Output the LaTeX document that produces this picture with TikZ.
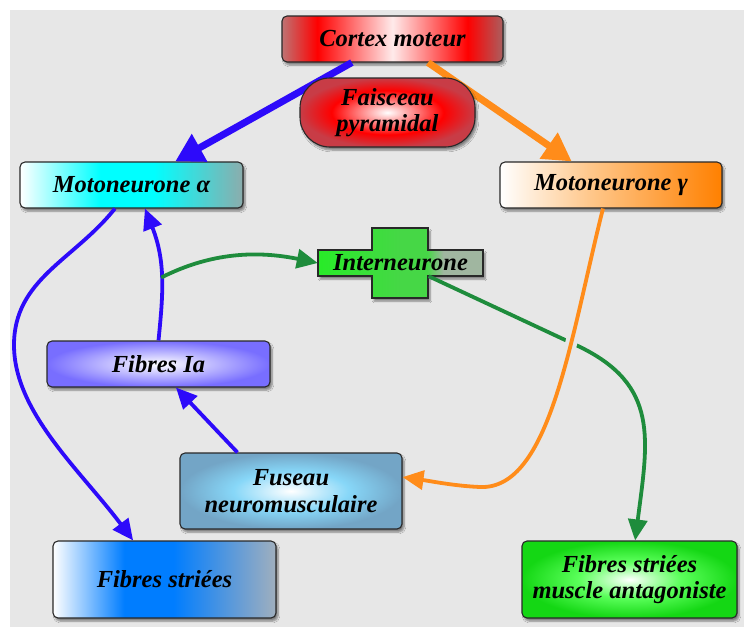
\documentclass[tikz,border=0pt]{standalone}
\usepackage{fontspec}
\setmainfont{Liberation Serif}
\usetikzlibrary{arrows.meta,calc,shadows.blur}

% ---------- colours ----------
\definecolor{paper}{RGB}{231,231,231}
\definecolor{boxline}{RGB}{40,40,40}
\definecolor{linkblue}{RGB}{45,10,250}
\definecolor{linkorange}{RGB}{255,140,26}
\definecolor{linkgreen}{RGB}{30,140,60}

\definecolor{cortexL}{RGB}{190,115,115}
\definecolor{cortexR}{RGB}{170,95,95}
\definecolor{cortexC}{RGB}{255,235,235}
\definecolor{pyrOut}{RGB}{200,60,70}
\definecolor{alphaR}{RGB}{140,172,172}
\definecolor{gammaM}{RGB}{255,200,140}
\definecolor{gammaR}{RGB}{255,128,0}
\definecolor{interL}{RGB}{40,235,40}
\definecolor{interM}{RGB}{70,215,70}
\definecolor{interR}{RGB}{160,182,160}
\definecolor{iaOut}{RGB}{120,110,255}
\definecolor{fusMid}{RGB}{135,215,248}
\definecolor{fusOut}{RGB}{115,165,198}
\definecolor{fsBlue}{RGB}{0,125,255}
\definecolor{fsR}{RGB}{160,175,190}
\definecolor{faMid}{RGB}{90,255,90}
\definecolor{faOut}{RGB}{20,215,20}

% ---------- shadings (inner 25bp..75bp covers the shape) ----------
\pgfdeclarehorizontalshading{cortexshade}{100bp}{color(0bp)=(cortexL); color(25bp)=(cortexL); color(33bp)=(red); color(50bp)=(cortexC); color(67bp)=(red); color(75bp)=(cortexR); color(100bp)=(cortexR)}
\pgfdeclareradialshading{pyrshade}{\pgfpoint{0bp}{0bp}}{color(0bp)=(white); color(9bp)=(red!55!white); color(16bp)=(red); color(25bp)=(pyrOut); color(50bp)=(pyrOut)}
\pgfdeclarehorizontalshading{alphashade}{100bp}{color(0bp)=(white); color(25bp)=(white); color(43bp)=(cyan); color(55bp)=(cyan); color(75bp)=(alphaR); color(100bp)=(alphaR)}
\pgfdeclarehorizontalshading{gammashade}{100bp}{color(0bp)=(white); color(25bp)=(white); color(45bp)=(gammaM); color(75bp)=(gammaR); color(100bp)=(gammaR)}
\pgfdeclarehorizontalshading{intershade}{100bp}{color(0bp)=(interL); color(25bp)=(interL); color(50bp)=(interM); color(58bp)=(interM); color(63bp)=(interR); color(75bp)=(interR); color(100bp)=(interR)}
\pgfdeclareradialshading{iashade}{\pgfpoint{0bp}{0bp}}{color(0bp)=(white); color(25bp)=(iaOut); color(50bp)=(iaOut)}
\pgfdeclareradialshading{fusshade}{\pgfpoint{0bp}{0bp}}{color(0bp)=(white); color(13bp)=(fusMid); color(25bp)=(fusOut); color(50bp)=(fusOut)}
\pgfdeclarehorizontalshading{fsshade}{100bp}{color(0bp)=(white); color(25bp)=(white); color(41bp)=(fsBlue); color(52bp)=(fsBlue); color(75bp)=(fsR); color(100bp)=(fsR)}
\pgfdeclareradialshading{fashade}{\pgfpoint{0bp}{0bp}}{color(0bp)=(white); color(12bp)=(faMid); color(25bp)=(faOut); color(50bp)=(faOut)}

\tikzset{
  softshadow/.style={blur shadow={shadow xshift=2pt, shadow yshift=-3pt,
      shadow blur steps=6, shadow opacity=45}},
  label font/.style={font=\fontsize{24.5}{26.5}\selectfont\bfseries\itshape, text=black},
  box/.style={draw=boxline, line width=1.1pt, rounded corners=5pt, inner sep=0pt,
      align=center, label font, softshadow},
  thinlink/.style={line width=3.8pt, -{Triangle[length=21pt,width=19pt]}},
  thicklink/.style={line width=7pt, -{Triangle[length=28pt,width=30pt]}},
}

\begin{document}
\begin{tikzpicture}[x=1pt,y=-1pt]
\useasboundingbox (0,0) rectangle (744,627);
\fill[white] (0,0) rectangle (744,627);
\fill[paper] (10,10) rectangle (744,627);

% ---------- nodes ----------
\node[box, shading=cortexshade, minimum width=221pt, minimum height=46pt] (cortex) at (392.5,39) {Cortex moteur};
\node[box, shading=alphashade, minimum width=223pt, minimum height=46pt] (ma) at (131.5,185) {Motoneurone α};
\node[box, shading=gammashade, minimum width=222pt, minimum height=46pt] (mg) at (611,185) {Motoneurone γ};

% cross-shaped interneurone body
\path[draw=boxline, line width=1.1pt, shading=intershade, softshadow]
  (318,250) -- (372,250) -- (372,228) -- (428,228) -- (428,250) -- (483,250)
  -- (483,276) -- (428,276) -- (428,298) -- (372,298) -- (372,276) -- (318,276) -- cycle;
\node[label font, inner sep=0pt, minimum width=165pt, minimum height=26pt] (inter) at (400.5,263) {Interneurone};

\node[box, shading=iashade, minimum width=223pt, minimum height=46pt] (fia) at (158.5,364) {Fibres Ia};
\node[box, shading=fusshade, minimum width=222pt, minimum height=76pt] (fus) at (291,491) {Fuseau\\neuromusculaire};
\node[box, shading=fsshade, minimum width=223pt, minimum height=77pt] (fs) at (164.5,579.5) {Fibres striées};
\node[box, shading=fashade, minimum width=215pt, minimum height=77pt] (fa) at (629.5,579.5) {Fibres striées\\muscle antagoniste};

% ---------- connectors ----------
% descending pathways from the motor cortex
\draw[thicklink, linkblue] ($(cortex.south west)!0.317!(cortex.south east)$) -- ($(ma.north west)!0.695!(ma.north east)$);
\draw[thicklink, linkorange] ($(cortex.south west)!0.66!(cortex.south east)$) -- ($(mg.north west)!0.324!(mg.north east)$);

% alpha motoneuron to striated fibres
\draw[thinlink, linkblue] ($(ma.south west)!0.426!(ma.south east)$)
   .. controls (74,260) and (14,279) .. (14,345)
   .. controls (14,412) and (80,470) .. ($(fs.north west)!0.36!(fs.north east)$);

% Ia afferents back to the alpha motoneuron
\draw[thinlink, linkblue] (fia.north)
   .. controls (163,295) and (166,262) .. coordinate[pos=0.5] (j) ($(ma.south west)!0.56!(ma.south east)$);

% spindle to Ia fibres
\draw[thinlink, linkblue] ($(fus.north west)!0.26!(fus.north east)$) -- ($(fia.south west)!0.578!(fia.south east)$);

% Ia collateral to the interneurone
\draw[thinlink, linkgreen] (j) .. controls (200,258) and (245,248) .. (inter.west);

% interneurone to antagonist muscle
\draw[thinlink, linkgreen] ($(inter.south east)!0.33!(inter.south west)$) -- (578,346)
   .. controls (660,385) and (648,440) .. ($(fa.north west)!0.526!(fa.north east)$);

% gamma motoneuron to the spindle, crossing over the green line
\draw[line width=12pt, paper, shorten <=8pt, shorten >=26pt] ($(mg.south west)!0.464!(mg.south east)$)
   .. controls (570,340) and (550,490) .. (480,487)
   .. controls (455,486) and (430,481) .. ($(fus.north east)!0.32!(fus.south east)$);
\draw[thinlink, linkorange] ($(mg.south west)!0.464!(mg.south east)$)
   .. controls (570,340) and (550,490) .. (480,487)
   .. controls (455,486) and (430,481) .. ($(fus.north east)!0.32!(fus.south east)$);

% pyramidal tract label sits over the descending arrows
\node[box, shading=pyrshade, rounded corners=30pt, minimum width=175pt, minimum height=69pt] (pyr) at (387.5,112.5) {Faisceau\\pyramidal};
\end{tikzpicture}
\end{document}
